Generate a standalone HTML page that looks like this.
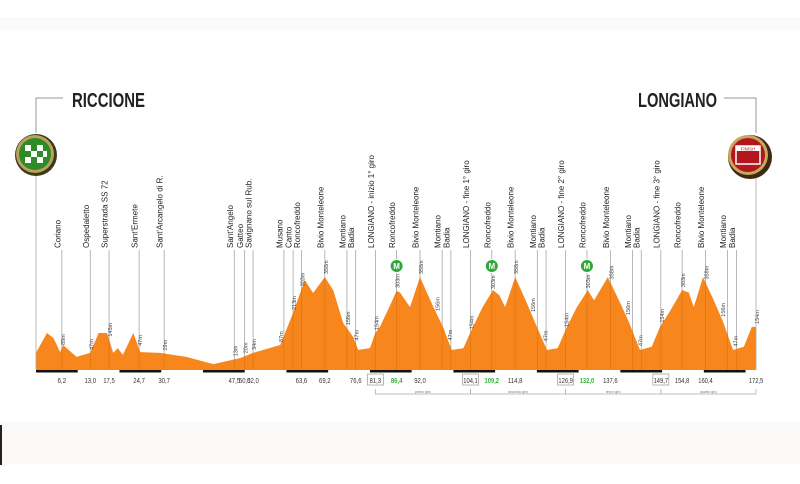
<!DOCTYPE html>
<html><head><meta charset="utf-8"><style>
html,body{margin:0;padding:0;background:#fff;}
svg{display:block;font-family:"Liberation Sans",sans-serif;}
</style></head><body>
<svg id="chart" width="800" height="484" viewBox="0 0 800 484" xmlns="http://www.w3.org/2000/svg">
<rect x="0" y="17" width="800" height="13" fill="#fcf9f9"/>
<rect x="0" y="422" width="800" height="42" fill="#fbf8f8"/>
<rect x="0" y="425" width="2" height="40" fill="#222"/>
<g id="g-lines"></g>
<path id="profile" fill="#f7861c"/>
<g id="g-overlines"></g>
<g id="g-bars"></g>
<g id="g-places"></g>
<g id="g-elev"></g>
<g id="g-km"></g>
<g id="g-laps"></g>
<g id="g-gpm"></g>

<text x="72" y="107" font-size="20" font-weight="bold" fill="#222" textLength="73" lengthAdjust="spacingAndGlyphs">RICCIONE</text>
<text x="638" y="107" font-size="20" font-weight="bold" fill="#222" textLength="79" lengthAdjust="spacingAndGlyphs">LONGIANO</text>
<polyline points="63,98 36,98 36,133" fill="none" stroke="#999" stroke-width="1"/>
<polyline points="724,98 756,98 756,133" fill="none" stroke="#999" stroke-width="1"/>
<line x1="36" y1="174" x2="36" y2="370" stroke="#aaa" stroke-width="0.8"/>
<line x1="756" y1="176" x2="756" y2="370" stroke="#aaa" stroke-width="0.8"/>

<g>
<circle cx="36" cy="155" r="21" fill="#3d3a1c"/>
<circle cx="35" cy="154" r="19" fill="#b9a25a"/>
<circle cx="35" cy="154" r="16" fill="#2f8a2a"/>
<rect x="25" y="145" width="6" height="6" fill="#fff"/><rect x="37" y="145" width="6" height="6" fill="#fff"/>
<rect x="31" y="151" width="6" height="6" fill="#fff"/><rect x="43" y="151" width="4" height="6" fill="#fff"/>
<rect x="25" y="157" width="6" height="6" fill="#fff"/><rect x="37" y="157" width="6" height="6" fill="#fff"/>
</g>
<g>
<circle cx="750" cy="157" r="22" fill="#3d2a12"/>
<circle cx="748" cy="155" r="20" fill="#c8a860"/>
<circle cx="748" cy="155" r="17" fill="#b3161c"/>
<rect x="736" y="146" width="24" height="18" fill="none" stroke="#fff" stroke-width="1.5"/>
<rect x="736" y="146" width="24" height="5" fill="#fff"/>
<text x="748" y="150.5" font-size="4.5" text-anchor="middle" fill="#b3161c">FINISH</text>
</g>
</svg>
<script>
const kms=[0,2.6,4.2,5.8,6.5,9.7,13,15,17,18.5,19.6,20.8,23.3,25,29.7,36,42.5,49,52,58.5,61.6,64.4,66.4,69.2,71.2,73.6,76,77.2,80,81.3,82.4,84.5,86.4,87.2,89.6,92,95.2,97.5,99.6,102.4,104.1,104.7,107,109.5,111,112.4,114.8,117.6,120,122.4,125,127.2,129.6,132.2,133.7,137,140,142,144.7,147.5,149.5,151.9,154.8,156.4,157.6,159.8,162.4,164.6,167,169.6,171.5,172.5];
const elevs=[72,147,128,75,102,57,72,147,147,72,90,64,147,75,72,57,30,53,72,102,223,347,298,358,309,185,132,83,90,147,170,240,306,300,245,358,245,170,83,90,150,170,245,309,290,245,358,260,170,83,90,170,245,309,270,358,260,190,83,95,170,230,309,300,245,358,270,190,83,95,170,170];
const placeNames=["Coriano","Ospedaletto","Superstrada SS 72","Sant'Ermete","Sant'Arcangelo di R.","Sant'Angelo","Gatteo","Savignano sul Rub.","Musano","Canto","Roncofreddo","Bivio Monteleone","Montiano","Badia","LONGIANO - inizio 1° giro","Roncofreddo","Bivio Monteleone","Montiano","Badia","LONGIANO - fine 1° giro","Roncofreddo","Bivio Monteleone","Montiano","Badia","LONGIANO - fine 2° giro","Roncofreddo","Bivio Monteleone","Montiano","Badia","LONGIANO - fine 3° giro","Roncofreddo","Bivio Monteleone","Montiano","Badia"];
const placeKms=[6.2,13.0,17.5,24.7,30.7,47.5,50.0,52.0,59.4,61.6,63.6,69.2,74.5,76.6,81.3,86.4,92.0,97.3,99.4,104.1,109.2,114.8,120.1,122.2,126.9,132.0,137.6,142.9,145.0,149.7,154.8,160.4,165.7,167.8];
const elevLabelKms=[6.2,13.0,17.5,24.7,30.7,47.5,50.0,52.0,58.5,61.6,63.6,69.2,74.5,76.6,81.3,86.4,92.0,96.0,99.0,104.1,109.2,114.8,118.8,121.8,126.9,132.0,137.6,141.6,144.6,149.7,154.8,160.4,164.4,167.4,172.5];
const elevLabels=["89m","47m","145m","47m","29m","13m","20m","34m","87m","213m","303m","358m","156m","47m","154m","303m","358m","156m","47m","154m","303m","358m","156m","47m","154m","303m","358m","156m","47m","154m","303m","358m","156m","47m","154m"];
const kmTicks=["6,2","13,0","17,5","24,7","30,7","47,5","50,0","52,0","63,6","69,2","76,6","81,3","86,4","92,0","104,1","109,2","114,8","126,9","132,0","137,6","149,7","154,8","160,4","172,5"];
const kmTickVals=[6.2,13.0,17.5,24.7,30.7,47.5,50.0,52.0,63.6,69.2,76.6,81.3,86.4,92.0,104.1,109.2,114.8,126.9,132.0,137.6,149.7,154.8,160.4,172.5];
const boxedKms=[81.3,104.1,126.9,149.7];
const gpmKms=[86.4,109.2,132.0];
const lapNames=["primo giro","secondo giro","terzo giro","quarto giro"];
const lapStarts=[81.3,104.1,126.9,149.7];
const lapEnds=[104.1,126.9,149.7,172.5];
const barStarts=[0,20,40,60,80,100,120,140,160];

const X0=36,X1=756,KMAX=172.5,BASE=370;
const x=k=>X0+(k/KMAX)*(X1-X0);
const y=e=>372-e*0.265;
function elevAt(k){for(let i=1;i<kms.length;i++){if(k<=kms[i]){const t=(k-kms[i-1])/(kms[i]-kms[i-1]);return elevs[i-1]+t*(elevs[i]-elevs[i-1]);}}return elevs[elevs.length-1];}
const NS="http://www.w3.org/2000/svg";
function mk(tag,attrs,parent){const el=document.createElementNS(NS,tag);for(const a in attrs)el.setAttribute(a,attrs[a]);parent.appendChild(el);return el;}

let d="M"+x(0)+","+BASE;
kms.forEach((k,i)=>{d+=" L"+x(k).toFixed(1)+","+y(elevs[i]).toFixed(1);});
d+=" L"+x(KMAX)+","+BASE+" Z";
document.getElementById('profile').setAttribute('d',d);

const gl=document.getElementById('g-lines'),go=document.getElementById('g-overlines'),gp=document.getElementById('g-places');
placeKms.forEach((k,i)=>{
  const px=x(k);
  const ln=mk('line',{x1:px,y1:250,x2:px,y2:BASE,stroke:'#999','stroke-width':0.7},gl);
  
  
  const lo=mk('line',{x1:px,y1:y(elevAt(k)),x2:px,y2:BASE,stroke:'#d87010','stroke-width':0.6},go);
  
  
  const t=mk('text',{x:0,y:0,'font-size':8,fill:'#222','text-anchor':'start',transform:'translate('+(px-1.5)+',248) rotate(-90)'},gp);
  t.textContent=placeNames[i];
  
  
});

const ge=document.getElementById('g-elev');
elevLabelKms.forEach((k,i)=>{
  const px=x(k),py=y(elevAt(k))-3;
  const t=mk('text',{x:0,y:0,'font-size':5.5,fill:'#444',transform:'translate('+(px+3)+','+py+') rotate(-90)'},ge);
  t.textContent=elevLabels[i];
  
  
});

const gb=document.getElementById('g-bars');
barStarts.forEach(b=>{
  const r=mk('rect',{x:x(b),y:BASE,width:x(Math.min(b+10,KMAX))-x(b),height:2.5,fill:'#111'},gb);
  
  
});

const gk=document.getElementById('g-km');
kmTickVals.forEach((k,i)=>{
  const px=x(k);
  const green=gpmKms.includes(k);
  if(boxedKms.includes(k)){
    const r=mk('rect',{x:px-8,y:374,width:16,height:11,fill:'none',stroke:'#999','stroke-width':0.7},gk);
    
    
  }
  const t=mk('text',{x:px,y:383,'font-size':7.5,'text-anchor':'middle',fill:green?'#3bb33b':'#333','font-weight':green?'bold':'normal',textLength:kmTicks[i].length*2.9,lengthAdjust:'spacingAndGlyphs'},gk);
  t.textContent=kmTicks[i];
  
  
});

const ga=document.getElementById('g-laps');
lapStarts.forEach((s,i)=>{
  const a=x(s),b=x(lapEnds[i]);
  const p=mk('polyline',{points:a+','+389+' '+a+','+394+' '+b+','+394+' '+b+','+389,fill:'none',stroke:'#aaa','stroke-width':0.7},ga);
  
  
  const t=mk('text',{x:(a+b)/2,y:393,'font-size':3.5,'text-anchor':'middle',fill:'#777'},ga);
  t.textContent=lapNames[i];
  
  
});

const gg=document.getElementById('g-gpm');
gpmKms.forEach(k=>{
  const px=x(k);
  const c=mk('circle',{cx:px,cy:266,r:6.5,fill:'#2fa83a',stroke:'#fff','stroke-width':1},gg);
  
  
  const t=mk('text',{x:px,y:269,'font-size':8,'font-weight':'bold','text-anchor':'middle',fill:'#fff'},gg);
  t.textContent='M';
  
  
});
</script>
</body></html>
